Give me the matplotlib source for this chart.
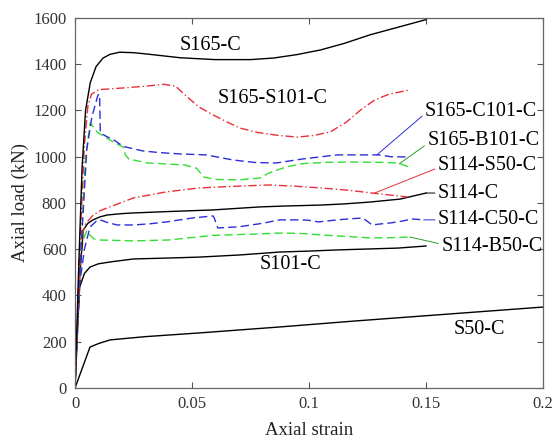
import numpy as np
import matplotlib.pyplot as plt

plt.rcParams['font.family'] = ['Liberation Serif', 'DejaVu Serif']

# S165-C
x_s165c = [0, 0.0015, 0.003, 0.0045, 0.0065, 0.009, 0.012, 0.015, 0.019, 0.025, 0.03, 0.045,
           0.06, 0.075, 0.085, 0.095, 0.105, 0.115, 0.126, 0.138, 0.15]
y_s165c = [0, 500, 950, 1200, 1320, 1390, 1427, 1443, 1452, 1450, 1445, 1428,
           1420, 1420, 1427, 1442, 1462, 1490, 1527, 1560, 1593]

# S165-S101-C
x_s165s = [0, 0.002, 0.004, 0.0055, 0.007, 0.01, 0.02, 0.03, 0.038, 0.043, 0.048, 0.053, 0.059,
           0.065, 0.0705, 0.078, 0.087, 0.095, 0.102, 0.109, 0.116, 0.122, 0.128, 0.134, 0.143]
y_s165s = [0, 600, 1050, 1220, 1270, 1290, 1297, 1305, 1313, 1305, 1258, 1215, 1181,
           1150, 1124, 1105, 1092, 1085, 1092, 1107, 1150, 1202, 1245, 1270, 1289]

# S165-C101-C
x_s165cc = [0, 0.002, 0.005, 0.0072, 0.0098, 0.0105, 0.0108, 0.013, 0.017, 0.0205, 0.029, 0.036,
            0.045, 0.056, 0.0675, 0.077, 0.086, 0.097, 0.112, 0.122, 0.130, 0.135, 0.142]
y_s165cc = [0, 500, 1030, 1172, 1267, 1270, 1103, 1090, 1070, 1045, 1025, 1018,
            1012, 1008, 986, 975, 973, 990, 1008, 1008, 1008, 1000, 999]

# S165-B101-C
x_s165b = [0, 0.002, 0.0045, 0.0065, 0.0094, 0.012, 0.015, 0.0205, 0.0215, 0.023, 0.031, 0.04,
           0.047, 0.052, 0.055, 0.06, 0.07, 0.079, 0.083, 0.09, 0.097, 0.108, 0.119, 0.13,
           0.138, 0.144]
y_s165b = [0, 500, 1000, 1146, 1107, 1090, 1072, 1042, 1008, 990, 973, 968,
           964, 950, 912, 902, 900, 908, 930, 955, 970, 976, 977, 976, 973, 951]

# S114-S50-C
x_s114s = [0, 0.002, 0.003, 0.0045, 0.0075, 0.011, 0.018, 0.025, 0.039, 0.053, 0.07, 0.083,
           0.095, 0.105, 0.117, 0.127, 0.135, 0.142]
y_s114s = [0, 500, 660, 710, 745, 768, 795, 822, 848, 865, 873, 878,
           872, 865, 855, 843, 834, 826]

# S114-C
x_s114c = [0, 0.002, 0.0035, 0.0055, 0.0077, 0.0107, 0.0137, 0.02, 0.025, 0.04, 0.059, 0.079,
           0.09, 0.105, 0.115, 0.126, 0.139, 0.15]
y_s114c = [0, 480, 683, 712, 727, 740, 748, 754, 757, 763, 770, 783,
           787, 791, 796, 804, 817, 843]

# S114-C50-C
x_s114cc = [0, 0.002, 0.004, 0.0064, 0.0095, 0.0107, 0.014, 0.018, 0.025, 0.032, 0.039, 0.05,
            0.059, 0.0595, 0.061, 0.07, 0.08, 0.0876, 0.097, 0.1, 0.104, 0.112, 0.118, 0.123,
            0.127, 0.131, 0.135, 0.14, 0.144, 0.149]
y_s114cc = [0, 450, 600, 696, 725, 727, 715, 705, 705, 710, 718, 735,
            744, 735, 692, 697, 712, 727, 727, 725, 718, 727, 732, 735,
            705, 710, 714, 722, 731, 727]

# S114-B50-C
x_s114b = [0, 0.002, 0.0035, 0.005, 0.0065, 0.008, 0.0107, 0.018, 0.025, 0.04, 0.059, 0.075,
           0.0876, 0.097, 0.105, 0.115, 0.126, 0.135, 0.143]
y_s114b = [0, 520, 640, 680, 660, 645, 640, 638, 636, 640, 660, 665,
           670, 668, 662, 656, 649, 650, 653]

# S101-C
x_s101 = [0, 0.001, 0.002, 0.004, 0.0064, 0.01, 0.015, 0.025, 0.04, 0.053, 0.07, 0.0876,
          0.1, 0.112, 0.125, 0.138, 0.15]
y_s101 = [0, 260, 437, 495, 523, 537, 545, 558, 562, 566, 575, 588,
          592, 597, 601, 605, 614]

# S50-C
x_s50 = [0, 0.0064, 0.01, 0.015, 0.03, 0.053, 0.0876, 0.12, 0.16, 0.2]
y_s50 = [0, 177, 192, 208, 222, 238, 264, 290, 320, 350]

RED = '#e8303a'
BLUE = '#2d2dd9'
GREEN = '#33dd33'
DKGREEN = '#2a9d2a'

fig = plt.figure(figsize=(5.57, 4.42), dpi=100)
ax = fig.add_axes([0.1347, 0.1222, 0.8402, 0.8371])

ax.plot(x_s50, y_s50, color='black', lw=1)
ax.plot(x_s101, y_s101, color='black', lw=1)
ax.plot(x_s114b, y_s114b, color=GREEN, lw=1, ls=(0, (6, 3)))
ax.plot(x_s114cc, y_s114cc, color=BLUE, lw=1, ls=(0, (6, 3)))
ax.plot(x_s114c, y_s114c, color='black', lw=1)
ax.plot(x_s114s, y_s114s, color=RED, lw=1, ls=(0, (6, 2, 1, 2)))
ax.plot(x_s165b, y_s165b, color=GREEN, lw=1, ls=(0, (6, 3)))
ax.plot(x_s165cc, y_s165cc, color=BLUE, lw=1, ls=(0, (6, 3)))
ax.plot(x_s165s, y_s165s, color=RED, lw=1, ls=(0, (6, 2, 1, 2)))
ax.plot(x_s165c, y_s165c, color='black', lw=1)

fs = 14.5
ax.text(0.058, 1480, 'S165-C', fontsize=fs, ha='center', va='center')
ax.text(0.0844, 1250, 'S165-S101-C', fontsize=fs, ha='center', va='center')
ax.text(0.092, 532, 'S101-C', fontsize=fs, ha='center', va='center')
ax.text(0.173, 251, 'S50-C', fontsize=fs, ha='center', va='center')

lab = dict(fontsize=fs, ha='left', va='center')
ax.annotate('S165-C101-C', xy=(0.129, 1008), xytext=(0.1495, 1194), color='black',
            arrowprops=dict(arrowstyle='-', color=BLUE, lw=0.7, shrinkA=0, shrinkB=0,
                            relpos=(0, 0.4)), **lab)
ax.annotate('S165-B101-C', xy=(0.1385, 969), xytext=(0.1505, 1072), color='black',
            arrowprops=dict(arrowstyle='-', color=DKGREEN, lw=0.7, shrinkA=0, shrinkB=0,
                            relpos=(0, 0.3)), **lab)
ax.annotate('S114-S50-C', xy=(0.128, 843), xytext=(0.155, 960), color='black',
            arrowprops=dict(arrowstyle='-', color=RED, lw=0.7, shrinkA=0, shrinkB=0,
                            relpos=(0, 0.4)), **lab)
ax.annotate('S114-C', xy=(0.15, 843), xytext=(0.155, 843), color='black',
            arrowprops=dict(arrowstyle='-', color='black', lw=0.7, shrinkA=0, shrinkB=0,
                            relpos=(0, 0.5)), **lab)
ax.annotate('S114-C50-C', xy=(0.149, 727), xytext=(0.155, 727), color='black',
            arrowprops=dict(arrowstyle='-', color=BLUE, lw=0.7, shrinkA=0, shrinkB=0,
                            relpos=(0, 0.5)), **lab)
ax.annotate('S114-B50-C', xy=(0.143, 653), xytext=(0.1565, 614), color='black',
            arrowprops=dict(arrowstyle='-', color=DKGREEN, lw=0.7, shrinkA=0, shrinkB=0,
                            relpos=(0, 0.6)), **lab)

ax.set_xlim(0, 0.2)
ax.set_ylim(0, 1600)
ax.set_xticks([0, 0.05, 0.1, 0.15, 0.2])
ax.set_xticklabels(['0', '0.05', '0.1', '0.15', '0.2'])
ax.set_yticks(np.arange(0, 1601, 200))
ax.tick_params(direction='in', top=True, right=True, labelsize=12, pad=6,
               colors='#555555', labelcolor='#333333', length=4)
for s in ax.spines.values():
    s.set_color('#666666')
    s.set_linewidth(0.9)

ax.set_xlabel('Axial strain', fontsize=13.5, color='#222222', labelpad=7)
ax.set_ylabel('Axial load (kN)', fontsize=13.5, color='#222222', labelpad=3)

fig.savefig('out.png', dpi=100)
